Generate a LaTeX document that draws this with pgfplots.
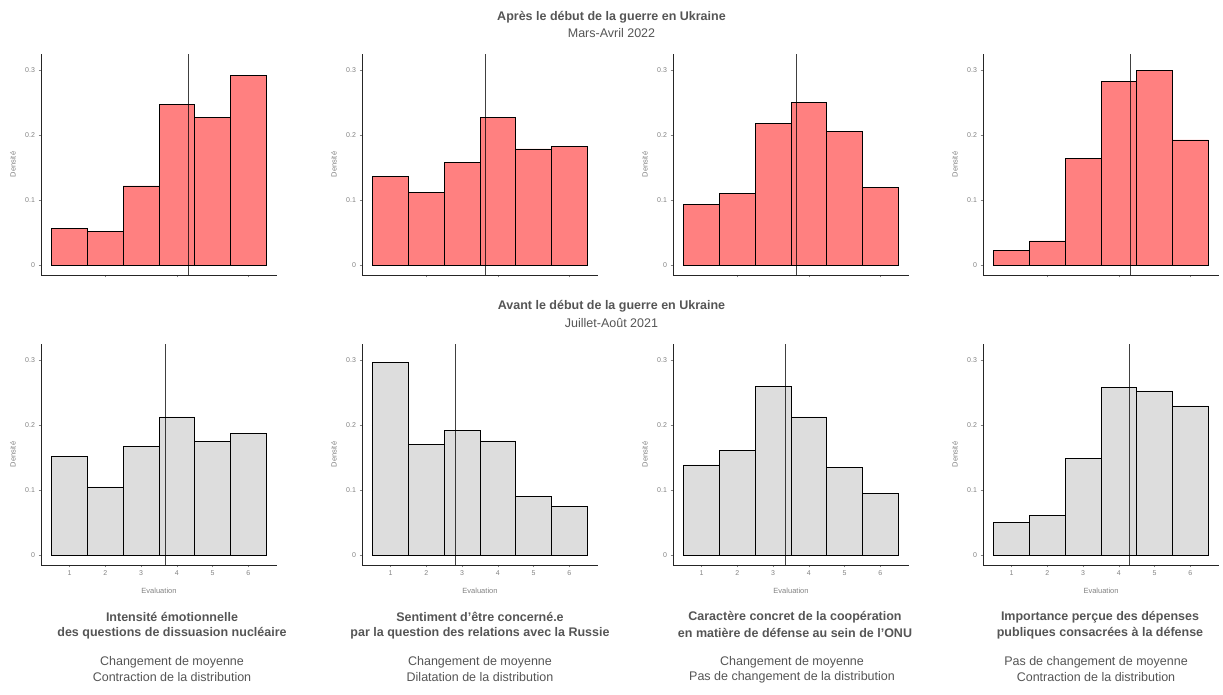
\documentclass[border=0pt]{standalone}
\usepackage{fontspec}
\setmainfont{Liberation Sans}
\usepackage{pgfplots}
\pgfplotsset{compat=1.18}

\definecolor{redfill}{RGB}{255,128,128}
\definecolor{greyfill}{RGB}{221,221,221}
\definecolor{titlegrey}{RGB}{85,85,85}
\definecolor{tickgrey}{RGB}{130,130,130}

% common look of the eight histograms
\pgfplotsset{
  hist/.style={
    scale only axis, width=236pt, height=221pt,
    xmin=0.2, xmax=6.8, ymin=-0.0155, ymax=0.3255,
    axis lines*=left,
    axis line style={-, black!85, line width=0.6pt},
    ytick={0,0.1,0.2,0.3}, yticklabels={0,0.1,0.2,0.3},
    tick align=outside, major tick length=2.5pt,
    tick style={tickgrey, line width=0.5pt},
    ticklabel style={font=\fontsize{7}{8}\selectfont, text=tickgrey},
    /pgf/number format/assume math mode=true,
    ylabel={Densité},
    every axis y label/.style={at={(axis description cs:0,0.5)}, xshift=-28pt,
      rotate=90, anchor=center, font=\fontsize{7.5}{8}\selectfont, text=tickgrey},
    every axis x label/.style={at={(axis description cs:0.5,0)}, yshift=-26pt,
      anchor=center, font=\fontsize{7.5}{8}\selectfont, text=tickgrey},
    clip=false,
  },
  toprow/.style={hist, xtick={2,4,6}, xticklabels={,,}},
  botrow/.style={hist, xtick={1,2,3,4,5,6}, xticklabels={1,2,3,4,5,6},
    xlabel={Evaluation}},
  redbars/.style={ybar interval, fill=redfill, draw=black, line width=0.7pt},
  greybars/.style={ybar interval, fill=greyfill, draw=black, line width=0.7pt},
  meanline/.style={black, opacity=0.75, line width=0.8pt},
}

\begin{document}
\begin{tikzpicture}
\useasboundingbox (0,0) rectangle (1223pt,695pt);

% ---- top row: Mars-Avril 2022
\begin{axis}[toprow, at={(41pt,420pt)}, anchor=south west]
\addplot[redbars] coordinates {(0.5,0.056)(1.5,0.052)(2.5,0.122)(3.5,0.248)(4.5,0.227)(5.5,0.293)(6.5,0.293)};
\addplot[meanline] coordinates {(4.32,-0.0155)(4.32,0.3255)};
\end{axis}

\begin{axis}[toprow, at={(362pt,420pt)}, anchor=south west]
\addplot[redbars] coordinates {(0.5,0.137)(1.5,0.112)(2.5,0.158)(3.5,0.228)(4.5,0.179)(5.5,0.183)(6.5,0.183)};
\addplot[meanline] coordinates {(3.65,-0.0155)(3.65,0.3255)};
\end{axis}

\begin{axis}[toprow, at={(673pt,420pt)}, anchor=south west]
\addplot[redbars] coordinates {(0.5,0.094)(1.5,0.110)(2.5,0.218)(3.5,0.251)(4.5,0.206)(5.5,0.120)(6.5,0.120)};
\addplot[meanline] coordinates {(3.66,-0.0155)(3.66,0.3255)};
\end{axis}

\begin{axis}[toprow, at={(983pt,420pt)}, anchor=south west]
\addplot[redbars] coordinates {(0.5,0.023)(1.5,0.037)(2.5,0.164)(3.5,0.283)(4.5,0.300)(5.5,0.193)(6.5,0.193)};
\addplot[meanline] coordinates {(4.33,-0.0155)(4.33,0.3255)};
\end{axis}

% ---- bottom row: Juillet-Août 2021
\begin{axis}[botrow, at={(41pt,130pt)}, anchor=south west]
\addplot[greybars] coordinates {(0.5,0.152)(1.5,0.105)(2.5,0.167)(3.5,0.213)(4.5,0.175)(5.5,0.187)(6.5,0.187)};
\addplot[meanline] coordinates {(3.69,-0.0155)(3.69,0.3255)};
\end{axis}

\begin{axis}[botrow, at={(362pt,130pt)}, anchor=south west]
\addplot[greybars] coordinates {(0.5,0.297)(1.5,0.170)(2.5,0.192)(3.5,0.176)(4.5,0.090)(5.5,0.075)(6.5,0.075)};
\addplot[meanline] coordinates {(2.82,-0.0155)(2.82,0.3255)};
\end{axis}

\begin{axis}[botrow, at={(673pt,130pt)}, anchor=south west]
\addplot[greybars] coordinates {(0.5,0.139)(1.5,0.161)(2.5,0.260)(3.5,0.213)(4.5,0.135)(5.5,0.095)(6.5,0.095)};
\addplot[meanline] coordinates {(3.33,-0.0155)(3.33,0.3255)};
\end{axis}

\begin{axis}[botrow, at={(983pt,130pt)}, anchor=south west]
\addplot[greybars] coordinates {(0.5,0.050)(1.5,0.061)(2.5,0.149)(3.5,0.258)(4.5,0.253)(5.5,0.230)(6.5,0.230)};
\addplot[meanline] coordinates {(4.30,-0.0155)(4.30,0.3255)};
\end{axis}

% ---- row titles
\begin{scope}[every node/.style={text=titlegrey, inner sep=0pt}]
\node[font=\bfseries\fontsize{12.5}{15}\selectfont] at (611.5pt,678pt) {Après le début de la guerre en Ukraine};
\node[font=\fontsize{12.5}{15}\selectfont] at (611.5pt,662pt) {Mars-Avril 2022};
\node[font=\bfseries\fontsize{12.5}{15}\selectfont] at (611.5pt,389pt) {Avant le début de la guerre en Ukraine};
\node[font=\fontsize{12.5}{15}\selectfont] at (611.5pt,372pt) {Juillet-Août 2021};

% ---- column captions
\node[font=\bfseries\fontsize{12.5}{15}\selectfont] at (172pt,78pt) {Intensité émotionnelle};
\node[font=\bfseries\fontsize{12.5}{15}\selectfont] at (172pt,62pt) {des questions de dissuasion nucléaire};
\node[font=\fontsize{12.5}{15}\selectfont] at (172pt,33pt) {Changement de moyenne};
\node[font=\fontsize{12.5}{15}\selectfont] at (172pt,18pt) {Contraction de la distribution};

\node[font=\bfseries\fontsize{12.5}{15}\selectfont] at (480pt,78pt) {Sentiment d’être concerné.e};
\node[font=\bfseries\fontsize{12.5}{15}\selectfont] at (480pt,62pt) {par la question des relations avec la Russie};
\node[font=\fontsize{12.5}{15}\selectfont] at (480pt,33pt) {Changement de moyenne};
\node[font=\fontsize{12.5}{15}\selectfont] at (480pt,18pt) {Dilatation de la distribution};

\node[font=\bfseries\fontsize{12.5}{15}\selectfont] at (795pt,78pt) {Caractère concret de la coopération};
\node[font=\bfseries\fontsize{12.5}{15}\selectfont] at (795pt,62pt) {en matière de défense au sein de l'ONU};
\node[font=\fontsize{12.5}{15}\selectfont] at (792pt,33pt) {Changement de moyenne};
\node[font=\fontsize{12.5}{15}\selectfont] at (792pt,18pt) {Pas de changement de la distribution};

\node[font=\bfseries\fontsize{12.5}{15}\selectfont] at (1100pt,78pt) {Importance perçue des dépenses};
\node[font=\bfseries\fontsize{12.5}{15}\selectfont] at (1100pt,62pt) {publiques consacrées à la défense};
\node[font=\fontsize{12.5}{15}\selectfont] at (1096pt,33pt) {Pas de changement de moyenne};
\node[font=\fontsize{12.5}{15}\selectfont] at (1096pt,18pt) {Contraction de la distribution};
\end{scope}
\end{tikzpicture}
\end{document}
